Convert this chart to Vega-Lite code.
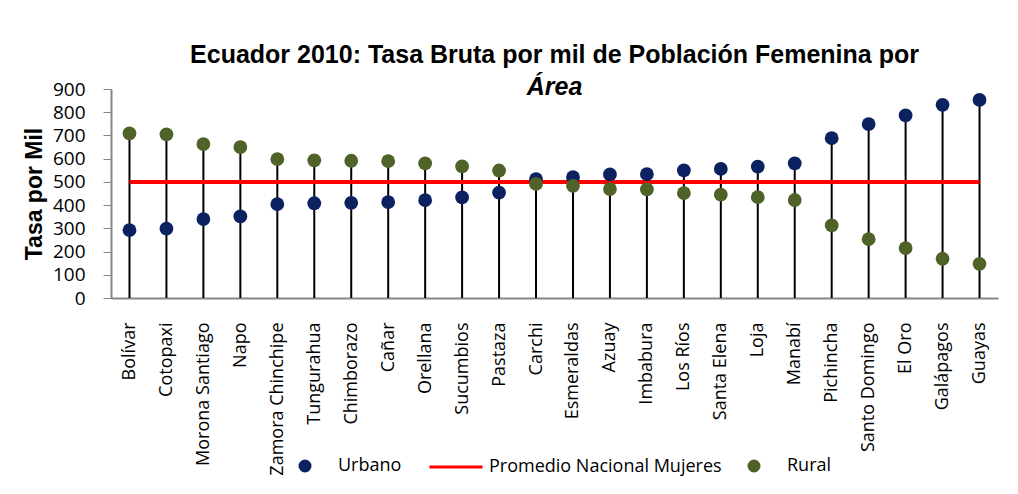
{
  "$schema": "https://vega.github.io/schema/vega-lite/v6.json",
  "autosize": {"type": "none"},
  "width": 887,
  "height": 209,
  "padding": {"left": 111, "top": 89, "right": 20, "bottom": 196},
  "background": "white",
  "config": {
    "font": "Open Sans",
    "view": {"stroke": null},
    "axis": {"grid": false, "domainColor": "#868686", "tickColor": "#868686", "labelColor": "black", "titleColor": "black"}
  },
  "title": {
    "text": "Ecuador 2010: Tasa Bruta por mil de Población Femenina por",
    "subtitle": "Área",
    "frame": "group",
    "anchor": "middle",
    "offset": -20,
    "font": "Liberation Sans",
    "fontSize": 25,
    "fontWeight": "bold",
    "color": "black",
    "subtitleFont": "Liberation Sans",
    "subtitleFontSize": 25,
    "subtitleFontWeight": "bold",
    "subtitleFontStyle": "italic",
    "subtitleColor": "black",
    "subtitlePadding": 7
  },
  "encoding": {
    "x": {
      "field": "provincia",
      "type": "nominal",
      "sort": null,
      "scale": {"type": "point", "padding": 0.5, "domain": ["Bolívar","Cotopaxi","Morona Santiago","Napo","Zamora Chinchipe","Tungurahua","Chimborazo","Cañar","Orellana","Sucumbios","Pastaza","Carchi","Esmeraldas","Azuay","Imbabura","Los Ríos","Santa Elena","Loja","Manabí","Pichincha","Santo Domingo","El Oro","Galápagos","Guayas"]},
      "axis": {"title": null, "labelAngle": -90, "labelFontSize": 18, "labelPadding": 24, "ticks": false, "domainWidth": 2, "labelFont": "Open Sans"}
    }
  },
  "layer": [
    {
      "data": {"values": [
        {"provincia": "Bolívar", "serie": "Urbano", "valor": 292}, {"provincia": "Bolívar", "serie": "Rural", "valor": 709},
        {"provincia": "Cotopaxi", "serie": "Urbano", "valor": 299}, {"provincia": "Cotopaxi", "serie": "Rural", "valor": 705},
        {"provincia": "Morona Santiago", "serie": "Urbano", "valor": 340}, {"provincia": "Morona Santiago", "serie": "Rural", "valor": 663},
        {"provincia": "Napo", "serie": "Urbano", "valor": 351}, {"provincia": "Napo", "serie": "Rural", "valor": 650},
        {"provincia": "Zamora Chinchipe", "serie": "Urbano", "valor": 404}, {"provincia": "Zamora Chinchipe", "serie": "Rural", "valor": 598},
        {"provincia": "Tungurahua", "serie": "Urbano", "valor": 408}, {"provincia": "Tungurahua", "serie": "Rural", "valor": 593},
        {"provincia": "Chimborazo", "serie": "Urbano", "valor": 410}, {"provincia": "Chimborazo", "serie": "Rural", "valor": 591},
        {"provincia": "Cañar", "serie": "Urbano", "valor": 413}, {"provincia": "Cañar", "serie": "Rural", "valor": 589},
        {"provincia": "Orellana", "serie": "Urbano", "valor": 421}, {"provincia": "Orellana", "serie": "Rural", "valor": 580},
        {"provincia": "Sucumbios", "serie": "Urbano", "valor": 433}, {"provincia": "Sucumbios", "serie": "Rural", "valor": 567},
        {"provincia": "Pastaza", "serie": "Urbano", "valor": 454}, {"provincia": "Pastaza", "serie": "Rural", "valor": 549},
        {"provincia": "Carchi", "serie": "Urbano", "valor": 512}, {"provincia": "Carchi", "serie": "Rural", "valor": 491},
        {"provincia": "Esmeraldas", "serie": "Urbano", "valor": 520}, {"provincia": "Esmeraldas", "serie": "Rural", "valor": 483},
        {"provincia": "Azuay", "serie": "Urbano", "valor": 532}, {"provincia": "Azuay", "serie": "Rural", "valor": 469},
        {"provincia": "Imbabura", "serie": "Urbano", "valor": 533}, {"provincia": "Imbabura", "serie": "Rural", "valor": 468},
        {"provincia": "Los Ríos", "serie": "Urbano", "valor": 550}, {"provincia": "Los Ríos", "serie": "Rural", "valor": 452},
        {"provincia": "Santa Elena", "serie": "Urbano", "valor": 556}, {"provincia": "Santa Elena", "serie": "Rural", "valor": 445},
        {"provincia": "Loja", "serie": "Urbano", "valor": 566}, {"provincia": "Loja", "serie": "Rural", "valor": 434},
        {"provincia": "Manabí", "serie": "Urbano", "valor": 580}, {"provincia": "Manabí", "serie": "Rural", "valor": 422},
        {"provincia": "Pichincha", "serie": "Urbano", "valor": 688}, {"provincia": "Pichincha", "serie": "Rural", "valor": 313},
        {"provincia": "Santo Domingo", "serie": "Urbano", "valor": 749}, {"provincia": "Santo Domingo", "serie": "Rural", "valor": 253},
        {"provincia": "El Oro", "serie": "Urbano", "valor": 786}, {"provincia": "El Oro", "serie": "Rural", "valor": 215},
        {"provincia": "Galápagos", "serie": "Urbano", "valor": 832}, {"provincia": "Galápagos", "serie": "Rural", "valor": 169},
        {"provincia": "Guayas", "serie": "Urbano", "valor": 853}, {"provincia": "Guayas", "serie": "Rural", "valor": 147}
      ], "name": "tasas"},
      "mark": {"type": "rule", "color": "black", "strokeWidth": 2},
      "encoding": {
        "y": {"aggregate": "max", "field": "valor", "type": "quantitative",
          "scale": {"domain": [0, 900], "nice": false},
          "axis": {"title": "Tasa por Mil", "titleFont": "Liberation Sans", "titleFontSize": 23, "titleFontWeight": "bold", "titlePadding": 6,
            "values": [0,100,200,300,400,500,600,700,800,900], "labelOverlap": false, "labelFlush": false, "labelFontSize": 19, "labelPadding": 18, "tickSize": 8, "domainWidth": 2, "labelFont": "Open Sans"}},
        "y2": {"datum": 0}
      }
    },
    {
      "data": {"values": [{"serie": "Promedio Nacional Mujeres", "valor": 500, "desde": "Bolívar", "hasta": "Guayas"}]},
      "mark": {"type": "rule", "strokeWidth": 4},
      "encoding": {
        "x": {"field": "desde", "type": "nominal"},
        "x2": {"field": "hasta"},
        "y": {"field": "valor", "type": "quantitative",
          "axis": {"title": "Tasa por Mil", "titleFont": "Liberation Sans", "titleFontSize": 23, "titleFontWeight": "bold", "titlePadding": 6,
            "values": [0,100,200,300,400,500,600,700,800,900], "labelOverlap": false, "labelFlush": false, "labelFontSize": 19, "labelPadding": 18, "tickSize": 8, "domainWidth": 2, "labelFont": "Open Sans"}},
        "color": {"field": "serie", "type": "nominal",
          "scale": {"domain": ["Urbano", "Promedio Nacional Mujeres", "Rural"], "range": ["#0B2160", "#FF0000", "#4F6228"]},
          "legend": {"title": null, "orient": "none", "direction": "horizontal", "legendX": 185, "legendY": 368,
            "padding": 0, "symbolSize": 100, "labelFontSize": 18, "labelFont": "Open Sans", "labelColor": "black", "labelLimit": 400,
            "labelOffset": 24, "columnPadding": 21, "symbolOpacity": 1,
            "labelExpr": "datum.label == 'Promedio Nacional Mujeres' ? 'Promedio Nacional Mujeres\u2007\u2007\u2007' : datum.label",
            "encode": {"symbols": {"update": {"stroke": {"scale": "color", "field": "value"}, "strokeWidth": {"value": 3}, "opacity": {"value": 1}}}}}}
      }
    },
    {
      "data": {"name": "tasas"},
      "mark": {"type": "point", "filled": true, "opacity": 1, "size": 190},
      "encoding": {
        "y": {"field": "valor", "type": "quantitative",
          "axis": {"title": "Tasa por Mil", "titleFont": "Liberation Sans", "titleFontSize": 23, "titleFontWeight": "bold", "titlePadding": 6,
            "values": [0,100,200,300,400,500,600,700,800,900], "labelOverlap": false, "labelFlush": false, "labelFontSize": 19, "labelPadding": 18, "tickSize": 8, "domainWidth": 2, "labelFont": "Open Sans"}},
        "color": {"field": "serie", "type": "nominal",
          "legend": {"title": null, "orient": "none", "direction": "horizontal", "legendX": 185, "legendY": 368,
            "padding": 0, "symbolSize": 100, "labelFontSize": 18, "labelFont": "Open Sans", "labelColor": "black", "labelLimit": 400,
            "labelOffset": 24, "columnPadding": 21, "symbolOpacity": 1,
            "labelExpr": "datum.label == 'Promedio Nacional Mujeres' ? 'Promedio Nacional Mujeres\u2007\u2007\u2007' : datum.label",
            "encode": {"symbols": {"update": {"stroke": {"scale": "color", "field": "value"}, "strokeWidth": {"value": 3}, "opacity": {"value": 1}}}}}},
        "shape": {"field": "serie", "type": "nominal",
          "scale": {"domain": ["Urbano", "Promedio Nacional Mujeres", "Rural"], "range": ["circle", "M-5.3,0H5.3", "circle"]},
          "legend": {"title": null, "orient": "none", "direction": "horizontal", "legendX": 185, "legendY": 368,
            "padding": 0, "symbolSize": 100, "labelFontSize": 18, "labelFont": "Open Sans", "labelColor": "black", "labelLimit": 400,
            "labelOffset": 24, "columnPadding": 21, "symbolOpacity": 1,
            "labelExpr": "datum.label == 'Promedio Nacional Mujeres' ? 'Promedio Nacional Mujeres\u2007\u2007\u2007' : datum.label",
            "encode": {"symbols": {"update": {"stroke": {"scale": "color", "field": "value"}, "strokeWidth": {"value": 3}, "opacity": {"value": 1}}}}}}
      }
    }
  ]
}
